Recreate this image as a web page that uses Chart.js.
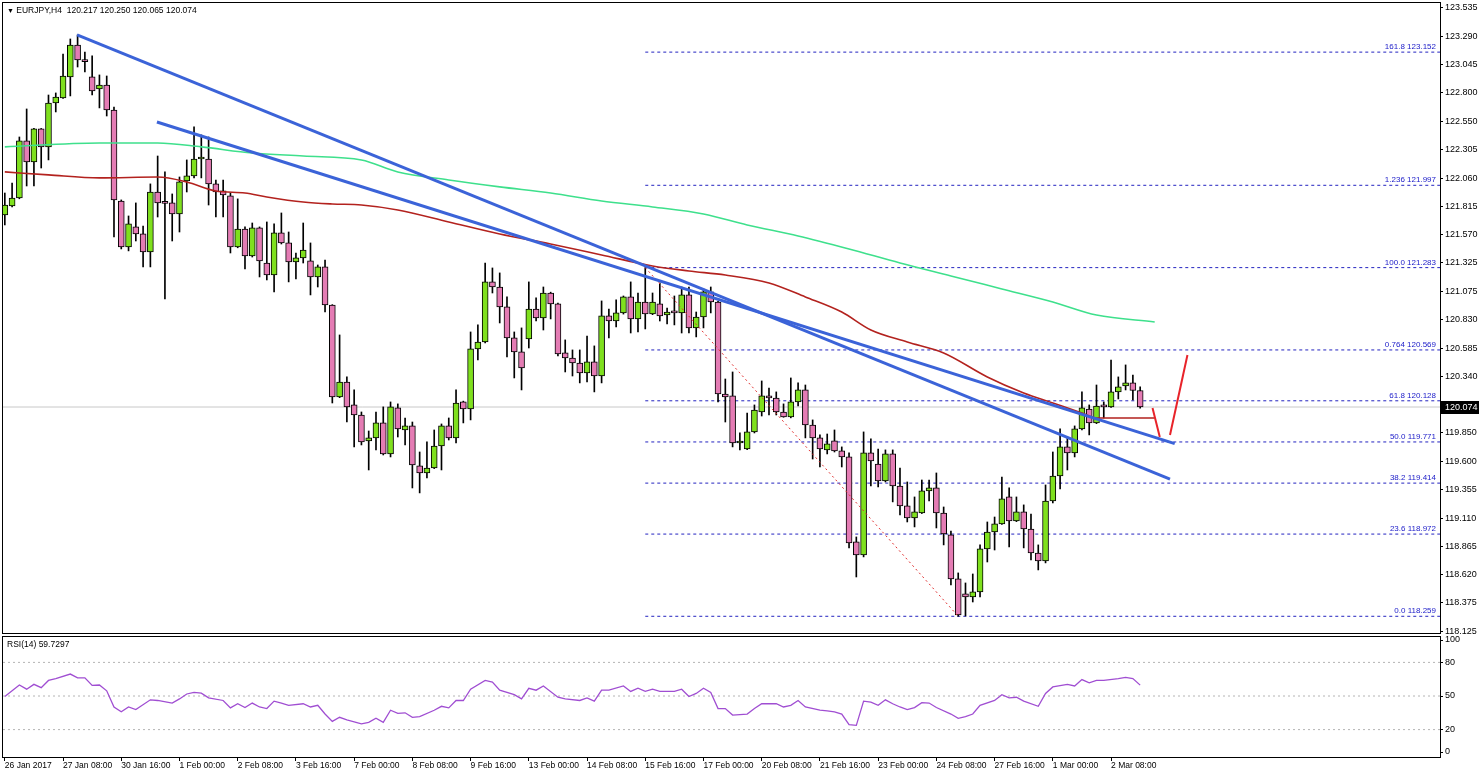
<!DOCTYPE html>
<html><head><meta charset="utf-8">
<script src="https://cdn.jsdelivr.net/npm/chart.js@4.4.1/dist/chart.umd.min.js"></script>
<style>
body{margin:0;background:#fff;width:1480px;height:772px;overflow:hidden;position:relative;font-family:"Liberation Sans",Arial,sans-serif}
canvas{position:absolute;left:0}
#cA{top:0}
#cB{top:636px}
.lbl{position:absolute;font-size:8.5px;color:#000;white-space:pre;line-height:10px}
</style></head><body>
<canvas id="cA" width="1480" height="636"></canvas>
<canvas id="cB" width="1480" height="136"></canvas>
<div class="lbl" style="left:7px;top:5px"><span style="font-size:7px">▼</span> EURJPY,H4  120.217 120.250 120.065 120.074</div>
<div class="lbl" style="left:7px;top:639px">RSI(14) 59.7297</div>
<script>
// ---------- DATA ----------
const xTickBars = [0,8,16,24,32,40,48,56,64,72,80,88,96,104,112,120,128,136,144,152];
const xTickLabels = ["26 Jan 2017","27 Jan 08:00","30 Jan 16:00","1 Feb 00:00","2 Feb 08:00","3 Feb 16:00","7 Feb 00:00","8 Feb 08:00","9 Feb 16:00","13 Feb 00:00","14 Feb 08:00","15 Feb 16:00","17 Feb 00:00","20 Feb 08:00","21 Feb 16:00","23 Feb 00:00","24 Feb 08:00","27 Feb 16:00","1 Mar 00:00","2 Mar 08:00"];
const priceTicks = [123.535,123.290,123.045,122.800,122.550,122.305,122.060,121.815,121.570,121.325,121.075,120.830,120.585,120.340,119.850,119.600,119.355,119.110,118.865,118.620,118.375,118.125];
const rsiTicks = [0,20,50,80,100];
const rsiLevels = [80,50,20];

const open = [121.740,121.818,121.887,122.382,122.199,122.486,122.330,122.711,122.754,122.937,123.214,123.075,122.937,122.832,122.867,122.650,121.861,121.462,121.636,121.575,121.419,121.939,121.844,121.844,121.748,122.035,122.078,122.225,122.225,122.009,121.948,121.905,121.462,121.618,121.384,121.627,121.323,121.219,121.584,121.497,121.332,121.367,121.341,121.202,121.289,120.959,120.161,120.291,120.092,120.005,119.780,119.806,119.936,119.667,120.066,119.875,119.910,119.563,119.502,119.545,119.736,119.910,119.806,120.118,120.057,120.578,120.638,121.159,121.115,120.942,120.673,120.552,120.664,120.924,120.846,121.063,120.968,120.543,120.499,120.456,120.369,120.465,120.343,120.864,120.820,120.890,121.030,120.838,120.985,120.881,120.968,120.872,120.898,120.890,121.046,120.760,120.855,121.072,120.985,120.187,120.170,119.762,119.710,119.858,120.031,120.170,120.152,120.031,119.988,120.118,120.222,119.918,119.806,119.702,119.780,119.693,119.641,118.904,118.791,119.676,119.580,119.433,119.667,119.389,119.216,119.112,119.155,119.346,119.372,119.155,118.965,118.583,118.453,118.427,118.470,118.843,118.990,119.060,119.294,119.086,119.164,119.016,118.808,118.739,119.259,119.476,119.728,119.676,119.884,120.057,119.936,120.083,120.075,120.205,120.257,120.283,120.217];
const high = [121.930,122.017,122.416,122.659,122.490,122.490,122.780,122.798,123.136,123.266,123.301,123.153,123.119,122.954,122.945,122.676,121.870,121.731,121.844,121.644,122.009,122.251,122.113,121.922,122.069,122.217,122.503,122.434,122.416,122.043,122.043,121.930,121.879,121.636,121.670,121.636,121.679,121.662,121.757,121.592,121.410,121.670,121.497,121.306,121.349,120.962,120.699,120.335,120.222,120.031,119.866,120.031,120.075,120.118,120.101,119.979,119.944,119.684,119.771,119.875,119.927,119.979,120.222,120.125,120.725,120.786,121.323,121.280,121.237,121.029,120.725,120.760,121.159,121.020,121.115,121.070,120.975,120.656,120.569,120.569,120.690,120.604,120.994,120.924,121.003,121.037,121.159,121.063,121.283,121.063,121.150,120.933,121.037,121.115,121.115,120.898,121.098,121.115,120.990,120.317,120.378,119.849,120.022,120.092,120.300,120.239,120.205,120.101,120.326,120.283,120.265,119.962,119.832,119.840,119.875,119.728,119.676,118.947,119.858,119.797,119.710,119.702,119.702,119.545,119.424,119.294,119.441,119.441,119.502,119.207,118.999,118.635,118.548,118.626,118.878,119.077,119.120,119.467,119.372,119.294,119.225,119.146,118.878,119.398,119.684,119.884,119.814,119.910,120.205,120.092,120.265,120.118,120.482,120.335,120.439,120.352,120.250];
const low = [121.653,121.809,121.880,121.991,121.991,122.147,122.217,122.633,122.750,122.772,123.023,122.980,122.780,122.668,122.598,121.549,121.445,121.428,121.514,121.289,121.289,121.722,121.011,121.514,121.592,121.939,122.061,122.061,121.826,121.722,121.722,121.410,121.455,121.271,121.375,121.202,121.176,121.072,121.488,121.159,121.185,121.323,121.046,121.115,120.898,120.109,120.155,119.944,119.728,119.745,119.528,119.702,119.658,119.641,119.814,119.745,119.372,119.329,119.459,119.540,119.528,119.788,119.762,119.936,119.962,120.482,120.630,121.063,120.803,120.508,120.326,120.222,120.586,120.820,120.742,120.838,120.517,120.378,120.343,120.283,120.291,120.205,120.283,120.673,120.768,120.880,120.716,120.725,120.751,120.875,120.820,120.794,120.786,120.716,120.716,120.682,120.760,120.890,120.118,119.944,119.728,119.702,119.705,119.849,119.996,120.005,120.005,119.985,119.980,120.083,119.806,119.623,119.554,119.667,119.684,119.554,118.852,118.600,118.774,119.389,119.381,119.424,119.251,119.138,119.077,119.034,119.150,119.259,119.025,118.878,118.531,118.259,118.262,118.383,118.427,118.730,118.834,119.055,118.860,119.080,118.852,118.748,118.661,118.722,119.242,119.363,119.528,119.641,119.875,119.832,119.930,119.979,120.070,120.144,120.222,120.135,120.065];
const close = [121.826,121.887,122.382,122.199,122.486,122.330,122.711,122.763,122.945,123.214,123.084,123.070,122.815,122.867,122.650,121.870,121.462,121.662,121.575,121.419,121.939,121.844,121.840,121.748,122.026,122.078,122.225,122.230,122.009,121.939,121.913,121.462,121.618,121.384,121.627,121.341,121.219,121.584,121.497,121.332,121.367,121.436,121.202,121.289,120.959,120.161,120.291,120.075,120.005,119.771,119.806,119.936,119.667,120.075,119.884,119.910,119.571,119.502,119.545,119.736,119.910,119.806,120.109,120.057,120.578,120.638,121.159,121.115,120.942,120.673,120.552,120.413,120.924,120.846,121.063,120.968,120.534,120.499,120.456,120.369,120.465,120.343,120.864,120.820,120.890,121.030,120.838,120.985,120.881,120.985,120.864,120.898,120.890,121.046,120.760,120.855,121.072,120.985,120.187,120.161,119.762,119.765,119.858,120.048,120.170,120.152,120.031,119.988,120.118,120.222,119.918,119.806,119.710,119.754,119.693,119.641,118.895,118.791,119.676,119.606,119.433,119.667,119.389,119.216,119.112,119.164,119.346,119.372,119.155,118.973,118.583,118.270,118.427,118.470,118.843,118.990,119.060,119.277,119.086,119.164,119.016,118.808,118.739,119.259,119.476,119.728,119.676,119.884,120.066,119.936,120.083,120.075,120.205,120.248,120.283,120.217,120.074];

const maGreenBars = [0,13,21,27,34,41,49,54,61,68,75,82,89,96,102,109,116,123,130,137,144,150,158];
const maGreenVals = [122.330,122.364,122.364,122.330,122.277,122.251,122.217,122.113,122.043,121.983,121.930,121.861,121.809,121.748,121.653,121.558,121.445,121.323,121.211,121.098,120.985,120.872,120.812];
const maRedBars = [0,6,13,21,25,29,33,36,41,45,49,54,61,68,75,82,89,94,99,105,110,115,119,124,129,135,140,144,148,150,158];
const maRedVals = [122.113,122.087,122.061,122.069,122.026,121.948,121.930,121.896,121.852,121.835,121.826,121.783,121.679,121.575,121.488,121.393,121.297,121.254,121.219,121.150,121.029,120.898,120.742,120.638,120.543,120.335,120.196,120.109,120.022,119.979,119.979];

const trend1Bars = [9.93,160.1];  const trend1Vals = [123.301,119.449];
const trend2Bars = [20.9,160.75]; const trend2Vals = [122.546,119.756];
const fibStartBar = 88;
const fibNames  = ["161.8","1.236","100.0","0.764","61.8","50.0","38.2","23.6","0.0"];
const fibLevels = [123.152,121.997,121.283,120.569,120.128,119.771,119.414,118.972,118.259];
const fibDiagBars = [88,131]; const fibDiagVals = [121.283,118.259];
const arrowABars = [157.7,158.7]; const arrowAVals = [120.066,119.814];
const arrowBBars = [160.1,162.5]; const arrowBVals = [119.832,120.525];
const lastPrice = 120.074;

const rsiBars = [0,2,3,4,5,6,7,9,10,11,12,13,14,15,16,17,18,20,21,23,24,25,26,27,28,30,31,32,33,34,35,36,37,38,39,41,42,43,44,45,46,47,49,50,51,52,53,54,55,56,57,59,60,61,62,63,64,66,67,68,70,71,72,73,74,76,77,79,80,81,82,83,85,86,87,88,89,90,92,93,94,95,96,97,98,99,100,102,103,104,106,107,108,109,110,112,113,114,115,116,117,118,119,120,121,122,123,124,125,126,127,128,130,131,132,133,134,136,137,138,139,140,142,143,144,146,147,148,149,150,151,153,154,155,156];
const rsiVals = [49.5,59.8,56.1,60.4,57.5,63.9,65.6,69.6,66.2,66.2,59.5,59.8,54.6,40.2,35.9,40.2,37.9,46.6,46.0,43.7,47.4,51.8,53.2,52.6,48.3,46.0,39.4,43.1,39.7,43.7,40.2,38.8,45.4,43.7,41.7,43.1,40.2,41.7,33.9,27.3,31.0,28.7,25.2,26.4,30.1,26.4,37.3,34.5,35.0,31.0,31.6,37.3,40.8,39.4,46.0,46.0,56.1,63.9,62.4,55.2,51.2,47.4,56.9,55.2,59.0,48.9,47.4,46.0,48.3,45.4,55.2,55.2,59.0,54.1,56.9,54.1,56.1,54.1,54.1,56.1,49.5,52.3,56.9,53.2,38.8,38.8,33.0,33.9,38.8,43.1,43.1,40.2,41.7,46.0,40.2,37.3,36.8,35.9,33.9,24.4,23.8,45.4,44.6,41.7,46.6,43.1,40.2,37.9,39.7,44.0,43.7,39.7,33.9,30.1,31.6,33.9,41.7,46.0,51.2,48.3,48.9,45.4,40.8,52.3,58.1,60.4,59.0,64.7,61.8,63.9,63.9,65.6,66.7,65.6,59.7];

// ---------- STYLE / SETUP ----------
const X_MIN = -0.25, X_MAX = 197.2;
const UP = '#7fe01e', DOWN = '#e47cb4';
const FONT = '"Liberation Sans", Arial, sans-serif';
const pts = (xs, ys) => xs.map((x, k) => ({x, y: ys[k]}));
const lineDs = (data, color, width, extra) => Object.assign({type:'line', data, borderColor:color, borderWidth:width, pointRadius:0, fill:false, tension:0}, extra||{});
const fixY = s => { s.width = 40; s.paddingTop = 0; s.paddingBottom = 0; };

const idx = open.map((_, i) => i);
const frame = {id:'frame', afterDraw(c){const a=c.chartArea, x=c.ctx; x.save(); x.strokeStyle='#000'; x.lineWidth=1; x.strokeRect(Math.round(a.left)-0.5, Math.round(a.top)-0.5, Math.round(a.right-a.left)+1, Math.round(a.bottom-a.top)+1); x.restore();}};

const fibText = {id:'fibText', afterDatasetsDraw(c){
  const {ctx, chartArea, scales:{y}} = c; ctx.save();
  ctx.font = '8px ' + FONT; ctx.fillStyle = '#1a1ac8'; ctx.textAlign = 'right'; ctx.textBaseline = 'bottom';
  fibLevels.forEach((v, k) => ctx.fillText(fibNames[k] + ' ' + v.toFixed(3), chartArea.right - 4, y.getPixelForValue(v) - 1));
  const py = Math.round(y.getPixelForValue(lastPrice));
  ctx.fillStyle = '#000'; ctx.fillRect(chartArea.right + 1, py - 6, 38, 13);
  ctx.fillStyle = '#fff'; ctx.font = '9px ' + FONT; ctx.textAlign = 'left'; ctx.textBaseline = 'middle';
  ctx.fillText(lastPrice.toFixed(3), chartArea.right + 5, py + 0.5);
  ctx.restore();
}};

const fibDatasets = fibLevels.map(v => lineDs([{x:fibStartBar, y:v}, {x:X_MAX, y:v}], '#2424c0', 1, {borderDash:[3,3], order:8}));

new Chart(document.getElementById('cA'), {
  type: 'bar',
  data: { datasets: [
    lineDs(pts(trend1Bars, trend1Vals), '#3b63d8', 3, {order:0}),
    lineDs(pts(trend2Bars, trend2Vals), '#3b63d8', 3, {order:0}),
    lineDs(pts(arrowABars, arrowAVals), '#e8232a', 2, {order:0}),
    lineDs(pts(arrowBBars, arrowBVals), '#e8232a', 2, {order:0}),
    lineDs(pts(maGreenBars, maGreenVals), '#3ee08c', 1.6, {order:1, cubicInterpolationMode:'monotone'}),
    lineDs(pts(maRedBars, maRedVals), '#b3221e', 1.6, {order:1, cubicInterpolationMode:'monotone'}),
    lineDs(pts(fibDiagBars, fibDiagVals), '#e03030', 1, {borderDash:[2,3], order:2}),
    { type:'bar', data: idx.map(i => ({x:i, y:[open[i], close[i]]})), backgroundColor: idx.map(i => close[i] >= open[i] ? UP : DOWN),
      borderColor:'#000', borderWidth:1, borderSkipped:false, barThickness:6, minBarLength:2, grouped:false, order:4 },
    { type:'bar', data: idx.map(i => ({x:i, y:[low[i], high[i]]})), backgroundColor:'#000', borderWidth:0, barThickness:1, grouped:false, order:5 },
    ...fibDatasets,
    lineDs([{x:X_MIN, y:lastPrice}, {x:X_MAX, y:lastPrice}], '#c8c8c8', 1, {order:9})
  ]},
  options: {
    responsive:false, animation:false, events:[],
    layout:{padding:{left:3, top:3, right:0, bottom:3}},
    plugins:{legend:{display:false}, tooltip:{enabled:false}},
    scales:{
      x:{type:'linear', min:X_MIN, max:X_MAX, display:false, offset:false},
      y:{position:'right', min:118.114, max:123.578,
         afterFit: fixY,
         afterBuildTicks(s){ s.ticks = priceTicks.map(v => ({value:v})); },
         grid:{drawOnChartArea:false, tickLength:3, color:'#000'},
         border:{color:'#000'},
         ticks:{crossAlign:'near', padding:2, color:'#000', font:{family:FONT, size:9}, callback:v => v.toFixed(3)} }
    }
  },
  plugins:[frame, fibText]
});

new Chart(document.getElementById('cB'), {
  type:'line',
  data:{ datasets:[
    lineDs(pts(rsiBars, rsiVals), '#a04ed2', 1.3, {order:0}),
    ...rsiLevels.map(v => lineDs([{x:X_MIN, y:v}, {x:X_MAX, y:v}], '#b4b4b4', 1, {borderDash:[2,3], order:2}))
  ]},
  options:{
    responsive:false, animation:false, events:[],
    layout:{padding:{left:3, top:1, right:0, bottom:0}},
    plugins:{legend:{display:false}, tooltip:{enabled:false}},
    scales:{
      x:{type:'linear', min:X_MIN, max:X_MAX, offset:false,
         afterFit(s){ s.height = 15; s.paddingLeft = 0; s.paddingRight = 0; },
         afterBuildTicks(s){ s.ticks = xTickBars.map(v => ({value:v})); },
         grid:{drawOnChartArea:false, tickLength:4, color:'#000'},
         border:{color:'#000'},
         ticks:{align:'start', padding:0, maxRotation:0, autoSkip:false, color:'#000', font:{family:FONT, size:8.5},
                callback:(v, k) => xTickLabels[k]}},
      y:{position:'right', min:-4.46, max:102.68,
         afterFit: fixY,
         afterBuildTicks(s){ s.ticks = rsiTicks.map(v => ({value:v})); },
         grid:{drawOnChartArea:false, tickLength:3, color:'#000'},
         border:{color:'#000'},
         ticks:{crossAlign:'near', padding:2, color:'#000', font:{family:FONT, size:9}}}
    }
  },
  plugins:[frame]
});
</script>
</body></html>
